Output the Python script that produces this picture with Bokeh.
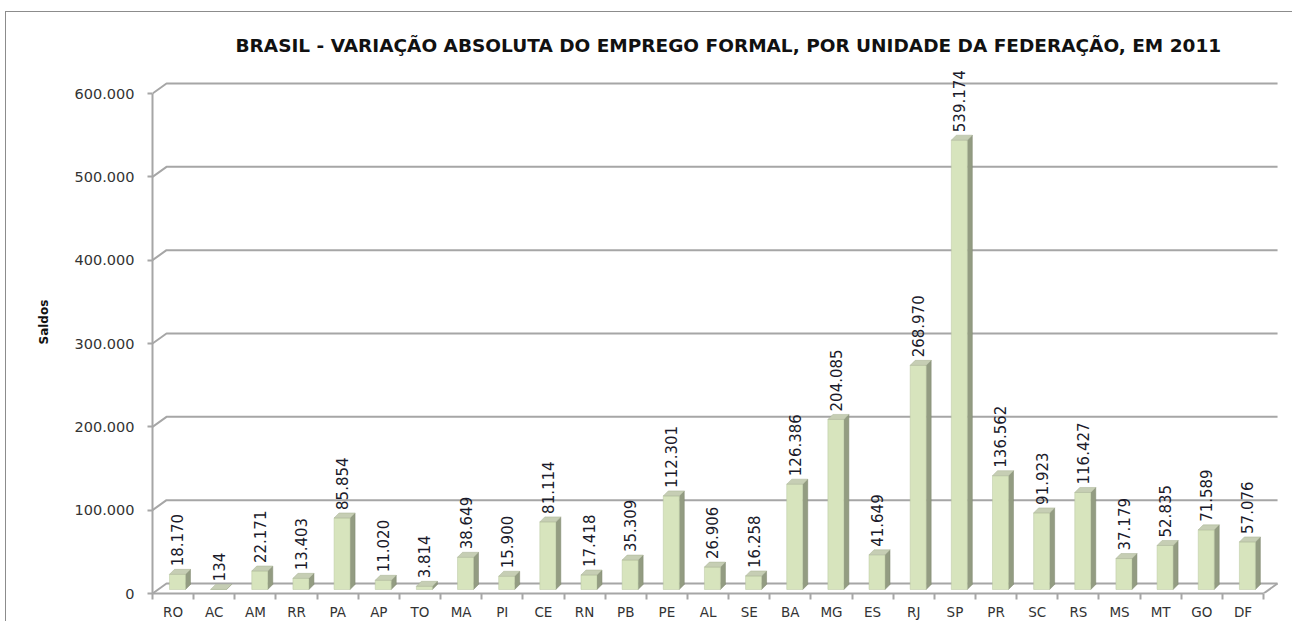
import numpy as np
from bokeh.plotting import figure
from bokeh.models import FixedTicker, Range1d, Title
from bokeh.core.properties import value
from bokeh.embed import file_html
from bokeh.resources import INLINE

title_text = "BRASIL - VARIAÇÃO ABSOLUTA DO EMPREGO FORMAL, POR UNIDADE DA FEDERAÇÃO, EM 2011"
y_label = "Saldos"
states = ["RO", "AC", "AM", "RR", "PA", "AP", "TO", "MA", "PI", "CE", "RN", "PB", "PE", "AL",
          "SE", "BA", "MG", "ES", "RJ", "SP", "PR", "SC", "RS", "MS", "MT", "GO", "DF"]
saldos = [18170, 134, 22171, 13403, 85854, 11020, 3814, 38649, 15900, 81114, 17418, 35309,
          112301, 26906, 16258, 126386, 204085, 41649, 268970, 539174, 136562, 91923, 116427,
          37179, 52835, 71589, 57076]
y_ticks = [0, 100000, 200000, 300000, 400000, 500000, 600000]
y_tick_labels = ["0", "100.000", "200.000", "300.000", "400.000", "500.000", "600.000"]
value_labels = [f"{v:,}".replace(",", ".") for v in saldos]

n = len(states)
PX = 41.15      # pixels per category
UPX = 1200.0    # value units per pixel
FRAME_W, FRAME_H = 1130, 524
MB_L, MB_R, MB_T, MB_B = 146, 10, 57, 0

wall_dx = 14 / PX
wall_dy = 10 * UPX
bar_shift = 0.107
bar_w = 16 / PX
bar_base = 4 * UPX
bar_ddx = 5 / PX
bar_ddy = 5 * UPX

GRID = "#a6a6a6"
FONT = "DejaVu Sans"

p = figure(frame_width=FRAME_W, frame_height=FRAME_H,
           x_range=Range1d(0, FRAME_W / PX), y_range=Range1d(0, FRAME_H * UPX),
           output_backend="svg", toolbar_location=None,
           min_border_left=MB_L, min_border_right=MB_R, min_border_top=MB_T,
           min_border_bottom=MB_B)
p.styles = {"border-top": "1px solid #8c8c8c", "border-left": "1px solid #8c8c8c",
            "margin-top": "11px", "margin-left": "5px"}
p.outline_line_color = None
p.xgrid.visible = False
p.ygrid.visible = False
p.background_fill_color = "white"
p.border_fill_color = "white"

p.title.text = title_text
p.title.text_font = "DejaVu Sans"
p.title.text_font_style = "bold"
p.title.text_font_size = "18.5px"
p.title.align = "left"
p.title.offset = 83
p.title.standoff = 27
p.title.text_color = "#111111"

# y axis
p.yaxis.ticker = FixedTicker(ticks=y_ticks)
p.yaxis.major_label_overrides = {t: s for t, s in zip(y_ticks, y_tick_labels)}
p.yaxis.bounds = (0, y_ticks[-1])
p.yaxis.axis_line_color = GRID
p.yaxis.axis_line_width = 2
p.yaxis.major_tick_line_color = GRID
p.yaxis.major_tick_line_width = 2
p.yaxis.major_tick_out = 5
p.yaxis.major_tick_in = 0
p.yaxis.minor_tick_line_color = None
p.yaxis.major_label_standoff = 13
p.yaxis.major_label_text_font = FONT
p.yaxis.major_label_text_font_size = "14.5px"
p.yaxis.major_label_text_color = "#333333"

# y axis title, placed in the left panel
y_title = Title(text=y_label, align="left", offset=249, standoff=41,
                text_font=FONT, text_font_style="bold", text_font_size="12px",
                text_color="#111111")
p.add_layout(y_title, "left")

# x axis
centers = [i + 0.5 for i in range(n)]
bounds = [float(i) for i in range(n + 1)]
p.xaxis.ticker = FixedTicker(ticks=centers, minor_ticks=bounds)
p.xaxis.major_label_overrides = {c: s for c, s in zip(centers, states)}
p.xaxis.bounds = (0, n)
p.xaxis.axis_line_color = GRID
p.xaxis.axis_line_width = 2
p.xaxis.major_tick_line_color = None
p.xaxis.major_tick_out = 0
p.xaxis.major_tick_in = 0
p.xaxis.minor_tick_line_color = GRID
p.xaxis.minor_tick_line_width = 2
p.xaxis.minor_tick_out = 6
p.xaxis.minor_tick_in = 0
p.xaxis.major_label_standoff = 4
p.xaxis.major_label_text_font = FONT
p.xaxis.major_label_text_font_size = "13.5px"
p.xaxis.major_label_text_color = "#333333"

# back wall gridlines with 3D depth
gx, gy = [], []
for t in y_ticks:
    gx.append([0, wall_dx, n + wall_dx])
    gy.append([t, t + wall_dy, t + wall_dy])
gx.append([n, n + wall_dx])
gy.append([0, wall_dy])
p.multi_line(gx, gy, line_color=GRID, line_width=2)

# bars (3D look)
vals = np.array(saldos, dtype=float)
cx = np.arange(n) + 0.5 + bar_shift
l = cx - bar_w / 2
r = cx + bar_w / 2
top = bar_base + vals

side_xs = [[ri, ri + bar_ddx, ri + bar_ddx, ri] for ri in r]
side_ys = [[bar_base, bar_base + bar_ddy, ti + bar_ddy, ti] for ti in top]
p.patches(side_xs, side_ys, fill_color="#939c82", line_color="#7f876f", line_width=0.5)

p.quad(left=l, right=r, bottom=bar_base, top=top,
       fill_color="#d7e4bd", line_color="#b9c6a0", line_width=0.5)

top_xs = [[li, ri, ri + bar_ddx, li + bar_ddx] for li, ri in zip(l, r)]
top_ys = [[ti, ti, ti + bar_ddy, ti + bar_ddy] for ti in top]
p.patches(top_xs, top_ys, fill_color="#c6ceb4", line_color="#a9b295", line_width=0.5)

# value labels
p.text(x=cx, y=top, text=value_labels, angle=np.pi / 2,
       text_align="left", text_baseline="middle", y_offset=-8,
       text_font=value(FONT), text_font_size="15px", text_color="#1a1a2a")

open("out.html", "w").write(file_html(p, INLINE))
